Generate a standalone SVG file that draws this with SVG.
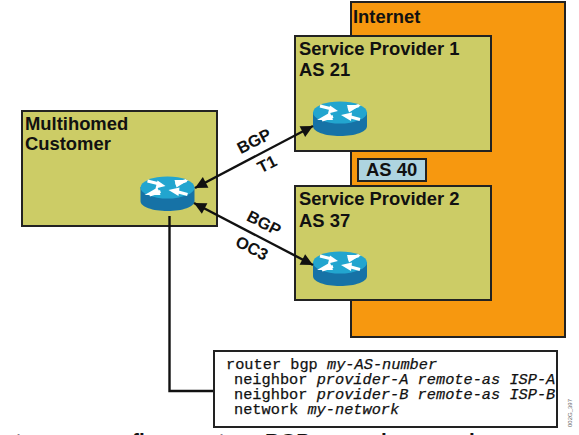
<svg xmlns="http://www.w3.org/2000/svg" width="579" height="435" viewBox="0 0 579 435">
<style>
.box{fill:#cccc66;stroke:#222;stroke-width:2}
.t{font-family:"Liberation Sans",Arial,sans-serif;font-weight:700;font-size:18.4px;fill:#111}
.l{font-family:"Liberation Sans",Arial,sans-serif;font-weight:700;font-size:16.5px;fill:#111;text-anchor:middle}
.c{font-family:"Liberation Mono","Courier New",monospace;font-size:15.3px;fill:#111;stroke:#111;stroke-width:.25}
.c tspan{font-style:italic}
.w{fill:none;stroke:#111;stroke-width:2.4}
.a{fill:none;stroke:#fff;stroke-width:3}
.h{fill:#fff}
</style>
<defs>
<marker id="ah" viewBox="0 0 10 10" refX="10" refY="5" markerWidth="5.6" markerHeight="5" orient="auto-start-reverse" markerUnits="strokeWidth"><path d="M0 0L10 5L0 10Z" fill="#111"/></marker>
<g id="router">
<path d="M-27-8V6C-27 12-15 16 0 16S27 12 27 6V-8Z" fill="#1672a6"/>
<ellipse cx="0" cy="-7.500" rx="27" ry="11" fill="#22a5cf"/>
<path class="a" d="M-20-14L-10-11.500M19-14.500L8-11M-18 0L-7-3.500M20-.5L9-3.500"/>
<path class="h" d="M-2-9L-12-6.500L-10-14.500ZM21-15L9-7.500L7-15ZM-23 0L-10-7.500L-7 0ZM1-5L12-7.500L11 1Z"/>
</g>
</defs>
<rect width="579" height="435" fill="#fff"/>
<g id="internet"><rect x="351" y="2" width="214" height="335" fill="#f7980f" stroke="#222" stroke-width="2"/><text class="t" x="353" y="23">Internet</text></g>
<g id="as40"><rect x="358" y="159" width="68" height="22" fill="#aed4e0" stroke="#222" stroke-width="2"/><text class="t" x="366" y="176">AS 40</text></g>
<g id="customer"><rect class="box" x="22" y="111" width="195" height="115"/><text class="t" x="25" y="130">Multihomed</text><text class="t" x="25" y="150">Customer</text></g>
<g id="sp1"><rect class="box" x="295" y="36" width="196" height="115"/><text class="t" x="299" y="55">Service Provider 1</text><text class="t" x="299" y="76">AS 21</text></g>
<g id="sp2"><rect class="box" x="295" y="186" width="196" height="114"/><text class="t" x="299" y="205">Service Provider 2</text><text class="t" x="299" y="227">AS 37</text></g>
<g id="router-customer"><use href="#router" x="167.500" y="195"/></g>
<g id="router-sp1"><use href="#router" x="340" y="120"/></g>
<g id="router-sp2"><use href="#router" x="340" y="270"/></g>
<g id="connectors">
<path class="w" d="M195 188L313 126" marker-start="url(#ah)" marker-end="url(#ah)"/>
<path class="w" d="M194 203L313 265" marker-start="url(#ah)" marker-end="url(#ah)"/>
<path class="w" d="M169.500 216V391H214"/>
</g>
<g id="labels">
<text class="l" transform="translate(254 141) rotate(-27)" dy=".35em">BGP</text>
<text class="l" transform="translate(267 164) rotate(-27)" dy=".35em">T1</text>
<text class="l" transform="translate(264 223) rotate(27)" dy=".35em">BGP</text>
<text class="l" transform="translate(252 248) rotate(27)" dy=".35em">OC3</text>
</g>
<g id="config">
<rect x="214" y="351" width="343" height="76" fill="#fff" stroke="#222" stroke-width="2"/>
<text class="c" x="226" y="369">router bgp <tspan>my-AS-number</tspan></text>
<text class="c" x="234" y="384">neighbor <tspan>provider-A remote-as ISP-A</tspan></text>
<text class="c" x="234" y="399">neighbor <tspan>provider-B remote-as ISP-B</tspan></text>
<text class="c" x="234" y="414">network <tspan>my-network</tspan></text>
</g>
<text transform="translate(572 427) rotate(-90)" font-family="Liberation Sans,sans-serif" font-size="6" fill="#666">002G_397</text>
<text y="448" font-family="Liberation Sans,sans-serif" font-weight="700" font-size="20.800" fill="#111"><tspan x="15">t</tspan><tspan x="132">fi</tspan><tspan x="218">t</tspan><tspan x="265">BGP</tspan><tspan x="381">i</tspan><tspan x="469">i</tspan></text>
</svg>
